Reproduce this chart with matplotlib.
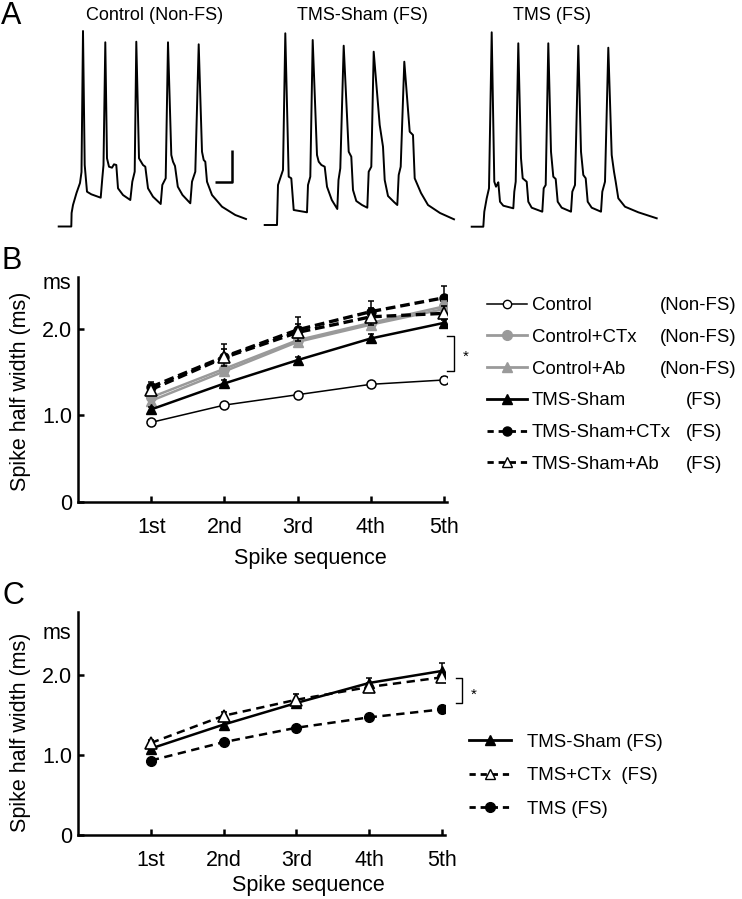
import matplotlib
matplotlib.use("Agg")
import matplotlib.pyplot as plt
from matplotlib.lines import Line2D
import matplotlib.transforms as mtransforms

plt.rcParams['font.family'] = ['Liberation Sans', 'DejaVu Sans']
plt.rcParams['lines.scale_dashes'] = False

# ---------------- Panel A: example traces (time, voltage; arbitrary units) ----------------
trace_titles = ["Control (Non-FS)", "TMS-Sham (FS)", "TMS (FS)"]

trace1_t = [0, 12.6, 12.9, 14.3, 17.8, 21.3, 22.8, 24.3, 26, 28.3, 32.6, 42, 43.6, 44.8, 46.6, 48.3,
            50.3, 53.3, 55.3, 57.6, 59.3, 64.3, 71.6, 73.6, 76, 77.6, 80.3, 84.3, 86.6, 89.3, 94.3,
            102, 103.6, 107, 109.3, 112.6, 114.3, 116.3, 119.1, 123.8, 131.6, 133.3, 136.6, 140,
            143.3, 145, 146.6, 148.3, 153.3, 163.3, 176.6, 187.3]
trace1_v = [0, 0, 13.5, 21.5, 33.5, 43.5, 54.5, 195.5, 61.5, 34.8, 32.2, 28.8, 48.2, 61.5, 184.2, 68.2,
            59.8, 58.8, 62.2, 61.5, 38.2, 31.5, 26.5, 44.8, 54.8, 184.8, 68.2, 61.5, 59.8, 38.2, 29.8,
            22.5, 41.5, 48.2, 184.2, 71.5, 64.8, 60.5, 39.8, 31.5, 23.2, 44.8, 54.8, 182.2,
            74.8, 66.5, 64.8, 44.8, 31.5, 19.8, 11.5, 7.5]

trace2_t = [0, 12.3, 13.3, 15.6, 18.3, 20.6, 24, 26.6, 29, 42.3, 43.3, 45.6, 48, 52.3, 54, 56.7, 60,
            62.3, 67.1, 72.6, 73.8, 75.6, 79, 84, 86.6, 88.3, 91.6, 97.3, 102.6, 104, 106.6, 109,
            115, 118.3, 120, 123.3, 129.3, 132.6, 134, 136, 139.6, 145, 148.3, 150, 156.3, 163.3,
            175.3, 189.3]
trace2_v = [0, 0, 40, 47, 55, 191.7, 48.3, 46.7, 15, 12.7, 40, 48.3, 185, 70, 63.3, 60, 58.3,
            38.3, 25, 16, 45, 56.7, 179.3, 73.3, 68.3, 35, 24, 20, 17.3, 53.3, 58.3, 173.3,
            100, 78.3, 45, 29, 23, 20, 50, 58.3, 163.3, 93.3, 90, 46.7, 32, 20,
            12, 5.7]

trace3_t = [0, 11.6, 12.6, 15, 17.3, 20, 22.6, 24.3, 25.6, 26.6, 28.3, 31.6, 41.6, 42.6, 44, 46.6,
            49.3, 51, 55, 56.6, 60, 70.6, 72, 74, 76.6, 79.3, 81.6, 84, 86, 90, 99.3, 100.6, 103.3,
            106.6, 109.3, 111.6, 114, 116, 120, 129.3, 130.6, 133.3, 136.6, 140, 142.3, 144, 146.6,
            153.3, 166.6, 185]
trace3_v = [0, 0, 15, 28.4, 38.4, 194.4, 45, 40, 42.4, 44.4, 25, 21, 18.4, 35, 45, 183.4,
            68.4, 48.4, 45, 25, 19, 15, 38.4, 41.7, 183.4, 75, 50, 47.7, 25, 19, 15, 35, 41.7,
            181, 75, 51.7, 48.4, 25, 19, 15, 35, 45, 179, 71.7, 55, 45, 28.4,
            20, 14.4, 8.4]

# ---------------- Panel B data ----------------
spikes = ["1st", "2nd", "3rd", "4th", "5th"]
b_labels = ["Control", "Control+CTx", "Control+Ab", "TMS-Sham", "TMS-Sham+CTx", "TMS-Sham+Ab"]
b_groups = ["(Non-FS)", "(Non-FS)", "(Non-FS)", "(FS)", "(FS)", "(FS)"]
control = [0.92, 1.12, 1.24, 1.36, 1.41]
control_err = [0.02, 0.02, 0.02, 0.03, 0.03]
control_ctx = [1.21, 1.54, 1.87, 2.07, 2.26]
control_ctx_err = [0.04, 0.05, 0.06, 0.06, 0.06]
control_ab = [1.17, 1.51, 1.85, 2.05, 2.23]
control_ab_err = [0.04, 0.05, 0.06, 0.06, 0.06]
sham = [1.07, 1.37, 1.64, 1.89, 2.07]
sham_err = [0.03, 0.04, 0.04, 0.05, 0.05]
sham_ctx = [1.33, 1.68, 1.99, 2.20, 2.36]
sham_ctx_err = [0.06, 0.15, 0.15, 0.12, 0.14]
sham_ab = [1.30, 1.67, 1.96, 2.14, 2.18]
sham_ab_err = [0.04, 0.10, 0.10, 0.10, 0.08]

# ---------------- Panel C data ----------------
c_labels = ["TMS-Sham (FS)", "TMS+CTx  (FS)", "TMS (FS)"]
c_sham = [1.08, 1.38, 1.65, 1.90, 2.05]
c_sham_err = [0.03, 0.04, 0.04, 0.06, 0.10]
c_ctx = [1.15, 1.49, 1.69, 1.85, 1.97]
c_ctx_err = [0.04, 0.05, 0.07, 0.05, 0.05]
c_tms = [0.93, 1.16, 1.34, 1.47, 1.57]
c_tms_err = [0.02, 0.02, 0.02, 0.02, 0.03]

W, H = 742, 899
fig = plt.figure(figsize=(W / 100, H / 100), dpi=100)


def fx(px):
    return px / W


def fy(py):
    return 1 - py / H


# ---------- Panel A ----------
trace_origins = [(58.7, 226.5), (264.7, 225.0), (471.7, 226.7)]
title_centers = [155, 362, 552]
traces = [(trace1_t, trace1_v), (trace2_t, trace2_v), (trace3_t, trace3_v)]
for (x0, y0), (t, v) in zip(trace_origins, traces):
    a = fig.add_axes([fx(x0), fy(y0), 200 / W, 200 / H])
    a.set_xlim(0, 200)
    a.set_ylim(0, 200)
    a.axis('off')
    a.plot(t, v, color='black', lw=1.4, clip_on=False, solid_joinstyle='round')
    if x0 < 100:
        # scale bar
        a.plot([156.3, 173.3, 173.3], [44.5, 44.5, 76.5], color='black', lw=1.8,
               clip_on=False, solid_capstyle='butt')
for title, cx in zip(trace_titles, title_centers):
    fig.text(fx(cx), fy(16), title, ha='center', va='center', fontsize=13)
fig.text(fx(1), fy(16), "A", ha='left', va='center', fontsize=22)

LW_SPINE = 1.8
FS_TICK = 15.5


def setup(ax, ymax, ylabel_y, xlabel_y):
    ax.set_xlim(0, 5.04)
    ax.set_ylim(0, ymax)
    for s in ['top', 'right']:
        ax.spines[s].set_visible(False)
    for s in ['left', 'bottom']:
        ax.spines[s].set_linewidth(LW_SPINE)
    ax.set_xticks(range(1, 6))
    ax.set_xticklabels(spikes)
    ax.set_yticks([0, 1, 2])
    ax.set_yticklabels(['0', '1.0', '2.0'])
    ax.tick_params(direction='in', length=4, width=LW_SPINE, labelsize=FS_TICK)
    ax.tick_params(axis='x', pad=11)
    ax.tick_params(axis='y', pad=4)
    trans = mtransforms.blended_transform_factory(ax.transAxes, ax.transData)
    ax.text(-0.057, 2.52, "ms", transform=trans, ha='center', va='center', fontsize=FS_TICK)
    ax.set_xlabel("Spike sequence", fontsize=FS_TICK)
    ax.set_ylabel("Spike half width (ms)", fontsize=FS_TICK)
    ax.xaxis.set_label_coords(0.629, xlabel_y)
    ax.yaxis.set_label_coords(-0.127, ylabel_y)


x = [1, 2, 3, 4, 5]
GRAY = '#9a9a9a'

# ---------- Panel B ----------
axB = fig.add_axes([fx(78), fy(502), (447 - 78) / W, (502 - 277) / H])
setup(axB, 2.6, 0.49, -0.205)
ekw = dict(elinewidth=1.1, capsize=2.5, capthick=1.1)
axB.errorbar(x, sham_ctx, yerr=sham_ctx_err, color='black', lw=2.4, ls='--', dashes=(7, 3.5),
             marker='o', ms=6.5, mfc='black', mec='black', ecolor='black', zorder=3, **ekw)
axB.errorbar(x, control_ctx, yerr=control_ctx_err, color=GRAY, lw=1.8, marker='o', ms=7,
             mfc=GRAY, mec=GRAY, ecolor=GRAY, zorder=4, **ekw)
axB.errorbar(x, control_ab, yerr=control_ab_err, color=GRAY, lw=1.8, marker='^', ms=7,
             mfc=GRAY, mec=GRAY, ecolor=GRAY, zorder=4, **ekw)
axB.errorbar(x, sham, yerr=sham_err, color='black', lw=1.8, marker='^', ms=7,
             mfc='black', mec='black', ecolor='black', zorder=5, **ekw)
axB.errorbar(x, control, yerr=control_err, color='black', lw=1.1, marker='o', ms=6.5,
             mfc='white', mec='black', mew=1.1, ecolor='black', zorder=5, **ekw)
axB.errorbar(x, sham_ab, yerr=sham_ab_err, color='black', lw=2.4, ls='--', dashes=(7, 3.5),
             marker='^', ms=8, mfc='white', mec='black', mew=1.2, ecolor='black', zorder=6, **ekw)

axB.plot([5.04, 5.137, 5.137, 5.04], [1.92, 1.92, 1.51, 1.51], color='black', lw=1.0, clip_on=False)
axB.text(5.29, 1.68, "*", ha='center', va='center', fontsize=11)
fig.text(fx(2), fy(261), "B", ha='left', va='center', fontsize=22)

hB = [
    Line2D([], [], color='black', lw=1.1, marker='o', ms=6, mfc='white', mec='black'),
    Line2D([], [], color=GRAY, lw=2.0, marker='o', ms=7, mfc=GRAY, mec=GRAY),
    Line2D([], [], color=GRAY, lw=2.0, marker='^', ms=7, mfc=GRAY, mec=GRAY),
    Line2D([], [], color='black', lw=2.0, marker='^', ms=7, mfc='black', mec='black'),
    Line2D([], [], color='black', lw=2.0, ls='--', dashes=(4.5, 3.5), marker='o', ms=6.5,
           mfc='black', mec='black'),
    Line2D([], [], color='black', lw=2.0, ls='--', dashes=(4.5, 3.5), marker='^', ms=7.5,
           mfc='white', mec='black'),
]
legB = fig.legend(hB, b_labels, loc='center left', bbox_to_anchor=(fx(486.7), fy(385)),
                  frameon=False, fontsize=13.4, handlelength=2.15, handletextpad=0.27,
                  labelspacing=0.79, borderpad=0, borderaxespad=0)

# ---------- Panel C ----------
axC = fig.add_axes([fx(78), fy(835), (445 - 78) / W, (835 - 611.7) / H])
setup(axC, 2.79, 0.461, -0.178)
axC.errorbar(x, c_tms, yerr=c_tms_err, color='black', lw=1.8, ls='--', dashes=(6, 4),
             marker='o', ms=7, mfc='black', mec='black', ecolor='black', zorder=3, **ekw)
axC.errorbar(x, c_sham, yerr=c_sham_err, color='black', lw=1.8, marker='^', ms=7,
             mfc='black', mec='black', ecolor='black', zorder=4, **ekw)
axC.errorbar(x, c_ctx, yerr=c_ctx_err, color='black', lw=1.8, ls='--', dashes=(6, 4),
             marker='^', ms=8, mfc='white', mec='black', mew=1.2, ecolor='black', zorder=5, **ekw)
axC.plot([5.19, 5.28, 5.28, 5.19], [1.96, 1.96, 1.65, 1.65], color='black', lw=1.0, clip_on=False)
axC.text(5.44, 1.75, "*", ha='center', va='center', fontsize=11)
fig.text(fx(2), fy(596), "C", ha='left', va='center', fontsize=22)

hC = [
    Line2D([], [], color='black', lw=2.0, marker='^', ms=7, mfc='black', mec='black'),
    Line2D([], [], color='black', lw=2.0, ls='--', dashes=(4.5, 3.5), marker='^', ms=7.5,
           mfc='white', mec='black'),
    Line2D([], [], color='black', lw=2.0, ls='--', dashes=(4.5, 3.5), marker='o', ms=7,
           mfc='black', mec='black'),
]
legC = fig.legend(hC, c_labels, loc='center left', bbox_to_anchor=(fx(469.3), fy(775.8)),
                  frameon=False, fontsize=13.4, handlelength=2.25, handletextpad=0.84,
                  labelspacing=0.88, borderpad=0, borderaxespad=0)

# group labels aligned to legend rows
fig.canvas.draw()
renderer = fig.canvas.get_renderer()
for txt, grp in zip(legB.get_texts(), b_groups):
    bb = txt.get_window_extent(renderer)
    yc = (bb.y0 + bb.y1) / 2 / fig.bbox.height
    xl = 660 if grp == "(Non-FS)" else 686
    fig.text(fx(xl), yc, grp, ha='left', va='center', fontsize=13.4)

fig.savefig("out.png", dpi=100)
